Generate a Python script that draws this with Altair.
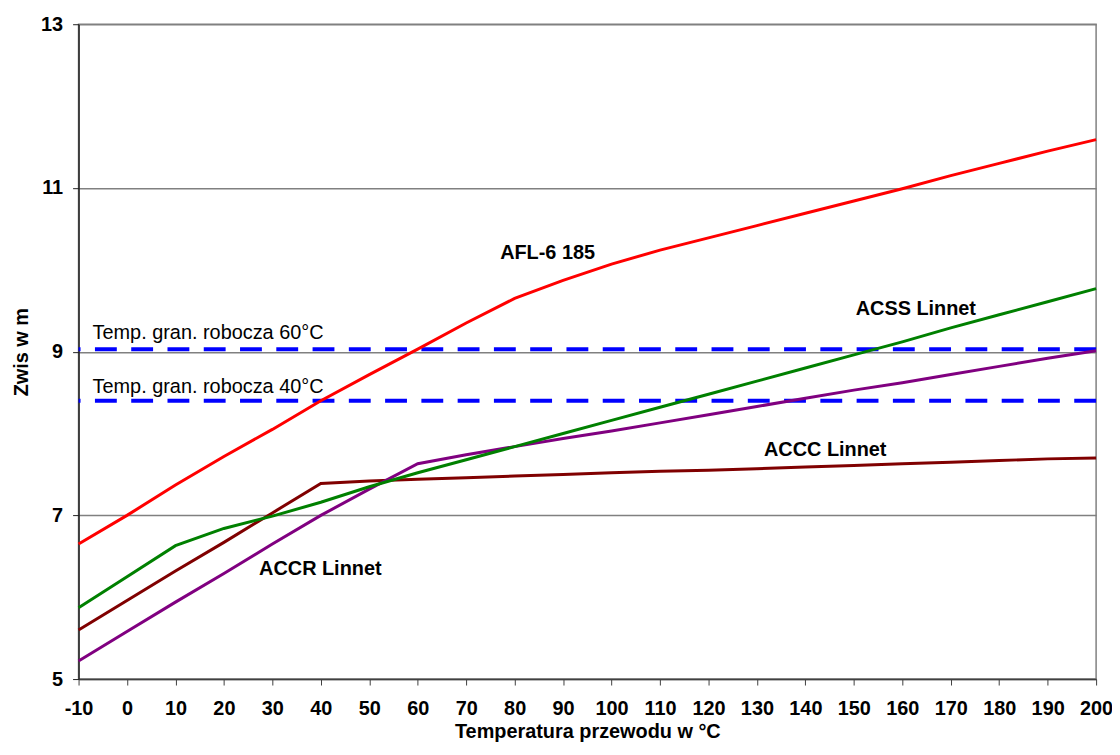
import altair as alt
import pandas as pd

# ---- data ----
temps = [-10, 0, 10, 20, 30, 40, 50, 60, 70, 80, 90, 100, 110, 120, 130, 140, 150, 160, 170, 180, 190, 200]

afl6_185 = [6.65, 7.00, 7.37, 7.72, 8.05, 8.40, 8.72, 9.03, 9.35, 9.65, 9.87, 10.07, 10.24, 10.39, 10.54, 10.69, 10.84, 10.99, 11.15, 11.30, 11.45, 11.59]
acss_linnet = [5.87, 6.25, 6.63, 6.84, 6.99, 7.16, 7.35, 7.52, 7.68, 7.84, 8.00, 8.16, 8.32, 8.48, 8.64, 8.80, 8.96, 9.12, 9.29, 9.45, 9.61, 9.77]
accc_linnet = [5.60, 5.96, 6.32, 6.67, 7.03, 7.39, 7.42, 7.44, 7.46, 7.48, 7.50, 7.52, 7.54, 7.55, 7.57, 7.59, 7.61, 7.63, 7.65, 7.67, 7.69, 7.70]
accr_linnet = [5.22, 5.58, 5.94, 6.29, 6.65, 7.00, 7.32, 7.63, 7.74, 7.84, 7.94, 8.03, 8.13, 8.23, 8.33, 8.43, 8.53, 8.62, 8.72, 8.82, 8.92, 9.01]

y_ticks = [5, 7, 9, 11, 13]

series_names = ["ACCC Linnet", "ACCR Linnet", "ACSS Linnet", "AFL-6 185"]
series_colors = ["#800000", "#800080", "#008000", "#FF0000"]

limit_names = ["Temp. gran. robocza 60°C", "Temp. gran. robocza 40°C"]
limit_values = [9.03, 8.40]

# label anchor positions (data coordinates)
series_label_x = [144.1, 39.9, 162.8, 86.8]
series_label_y = [7.80, 6.34, 9.52, 10.21]
limit_label_x = [-7.1, -7.1]
limit_label_y = [9.225, 8.57]

FONT = "Liberation Sans"

rows = []
for name, vals in zip(series_names, [accc_linnet, accr_linnet, acss_linnet, afl6_185]):
    for t, v in zip(temps, vals):
        rows.append({"series": name, "t": t, "z": v})
df = pd.DataFrame(rows)

lab_df = pd.DataFrame({"series": series_names, "x": series_label_x, "y": series_label_y})
lim_df = pd.DataFrame({"name": limit_names, "z": limit_values})
limlab_df = pd.DataFrame({"name": limit_names, "x": limit_label_x, "y": limit_label_y})

x_scale = alt.Scale(domain=[-10, 200], nice=False, zero=False)
y_scale = alt.Scale(domain=[5, 13], nice=False, zero=False)

x_axis = alt.Axis(
    values=temps, grid=False, title="Temperatura przewodu w °C",
    labelExpr="datum.value + ''",
    labelFont=FONT, labelFontSize=20, labelFontWeight="bold", labelColor="#000000",
    labelPadding=14, labelFlush=False, labelOverlap=False,
    tickSize=6, tickColor="#404040", domainColor="#404040", domainWidth=1.5,
    titleFont=FONT, titleFontSize=20, titleFontWeight="bold", titleColor="#000000",
    titlePadding=3,
)
y_axis = alt.Axis(
    values=y_ticks, grid=True, gridColor="#808080", gridWidth=1.5,
    title="Zwis w m",
    labelExpr="datum.value + ''",
    labelFont=FONT, labelFontSize=20, labelFontWeight="bold", labelColor="#000000",
    labelPadding=10, labelFlush=False,
    tickSize=6, tickColor="#202020", domainColor="#202020", domainWidth=1.5,
    titleFont=FONT, titleFontSize=20, titleFontWeight="bold", titleColor="#000000",
    titlePadding=9,
)

color = alt.Color("series:N", scale=alt.Scale(domain=series_names, range=series_colors), legend=None)

lines = alt.Chart(df).mark_line(strokeWidth=3).encode(
    x=alt.X("t:Q", scale=x_scale, axis=x_axis),
    y=alt.Y("z:Q", scale=y_scale, axis=y_axis),
    color=color,
    order=alt.Order("t:Q"),
)

limits = alt.Chart(lim_df).mark_rule(color="#0000FF", strokeWidth=4, strokeDash=[22, 14.5]).encode(
    y=alt.Y("z:Q", scale=y_scale),
)

limit_labels = alt.Chart(limlab_df).mark_text(
    font=FONT, fontSize=20, align="left", baseline="middle", color="#000000"
).encode(
    x=alt.X("x:Q", scale=x_scale),
    y=alt.Y("y:Q", scale=y_scale),
    text="name:N",
)

series_labels = alt.Chart(lab_df).mark_text(
    font=FONT, fontSize=20, fontWeight="bold", align="center", baseline="middle", color="#000000"
).encode(
    x=alt.X("x:Q", scale=x_scale),
    y=alt.Y("y:Q", scale=y_scale),
    text="series:N",
)

chart = alt.layer(limits, lines, limit_labels, series_labels).properties(
    width=1024, height=659,
    autosize=alt.AutoSizeParams(type="none"),
    padding={"left": 71, "top": 14, "right": 16, "bottom": 61},
    background="#FFFFFF",
).configure_view(stroke="#808080", strokeWidth=1.5)

chart.save("out.html", embed_options={"renderer": "svg", "actions": False})
